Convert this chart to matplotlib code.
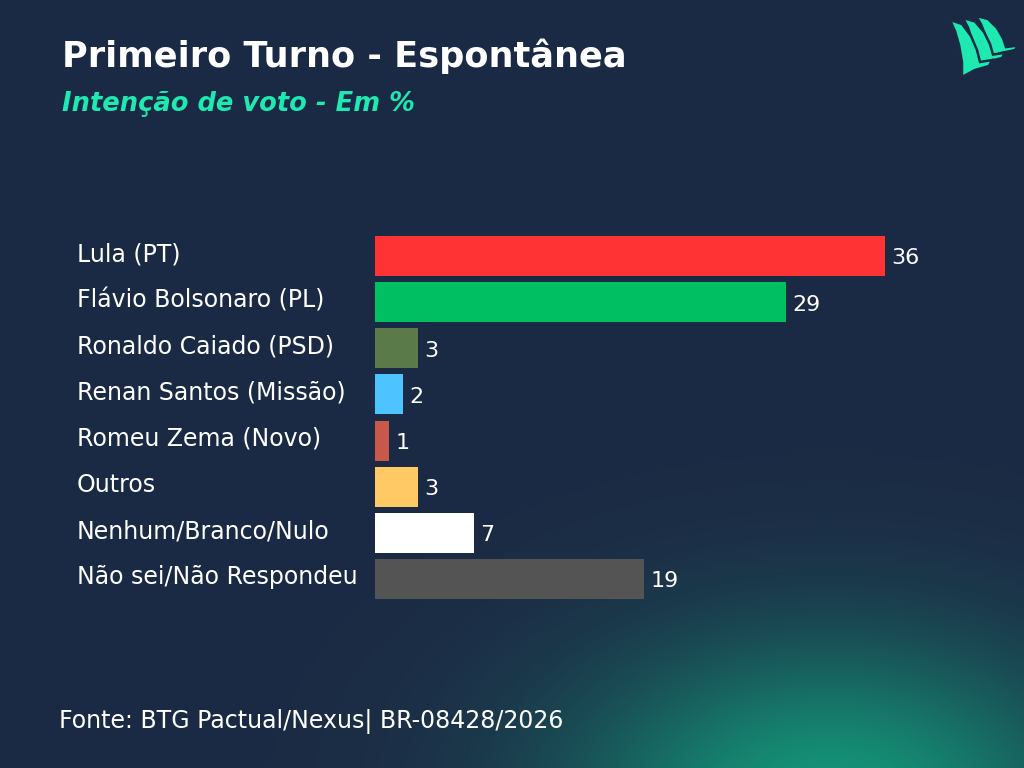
import numpy as np
import matplotlib.pyplot as plt
from matplotlib.patches import Polygon

candidates = ["Lula (PT)", "Flávio Bolsonaro (PL)", "Ronaldo Caiado (PSD)",
              "Renan Santos (Missão)", "Romeu Zema (Novo)", "Outros",
              "Nenhum/Branco/Nulo", "Não sei/Não Respondeu"]
values = [36, 29, 3, 2, 1, 3, 7, 19]
colors = ["#ff3333", "#00bf63", "#5a7a4a", "#4dc3ff", "#c8584a",
          "#ffc966", "#ffffff", "#545454"]

title = "Primeiro Turno - Espontânea"
subtitle = "Intenção de voto - Em %"
source = "Fonte: BTG Pactual/Nexus| BR-08428/2026"

plt.rcParams['font.family'] = ['DejaVu Sans']

W, H = 1024, 768
fig = plt.figure(figsize=(W / 100, H / 100), dpi=100)

# background: navy with a soft green glow at bottom right
bg = fig.add_axes([0, 0, 1, 1])
yy, xx = np.mgrid[0:H, 0:W]
t = 0.8 * np.exp(-((xx - 830) / 260.0) ** 2 - ((yy - 800) / 160.0) ** 2)
navy = np.array([0x1c, 0x2a, 0x44]) / 255
green = np.array([0x12, 0xb0, 0x85]) / 255
img = navy[None, None, :] * (1 - t[..., None]) + green[None, None, :] * t[..., None]
bg.imshow(img, extent=[0, 1, 0, 1], aspect='auto', origin='upper')
bg.set_axis_off()


# logo (three sails)
def px(x, y):
    return (x / W, 1 - y / H)


sail = [(950, 20), (962, 24), (971, 36), (977, 50), (980, 62), (992, 60),
        (989, 66), (975, 70), (962, 77), (962, 62), (959, 45), (955, 31)]
for ox, oy, s in [(26, -4, 0.74), (13, -2, 0.87), (0, 0, 1.0)]:
    pts = [(x + ox, 20 + oy + (y - 20) * s) for x, y in sail]
    poly = Polygon([px(x, y) for x, y in pts], closed=True,
                   facecolor="#1de9b0", edgecolor="#1c2a44", lw=1.8,
                   transform=fig.transFigure)
    fig.patches.append(poly)

fig.text(62 / W, 1 - 56 / H, title, color="white", fontsize=25.3,
         fontweight="bold", va="center", ha="left")
fig.text(62 / W, 1 - 104 / H, subtitle, color="#1de9b0", fontsize=18.5,
         fontweight="bold", fontstyle="italic", va="center", ha="left")
fig.text(59 / W, 1 - 722 / H, source, color="white", fontsize=17,
         va="center", ha="left")

ax = fig.add_axes([375 / W, 0.216, 566.8 / W, 0.4806])
ax.set_facecolor("none")
y = np.arange(len(candidates))
ax.barh(y, values, height=0.867, color=colors)
ax.set_xlim(0, 40)
ax.set_ylim(len(candidates) - 0.5, -0.5)
for yi, v in zip(y, values):
    ax.text(v + 0.45, yi + 0.05, str(v), color="white", fontsize=16,
            va="center", ha="left")
for yi, name in zip(y, candidates):
    ax.text((77 - 375) / 566.8, yi - 0.04, name, color="white", fontsize=17,
            va="center", ha="left", transform=ax.get_yaxis_transform())
ax.set_axis_off()

fig.savefig("out.png", dpi=100)
